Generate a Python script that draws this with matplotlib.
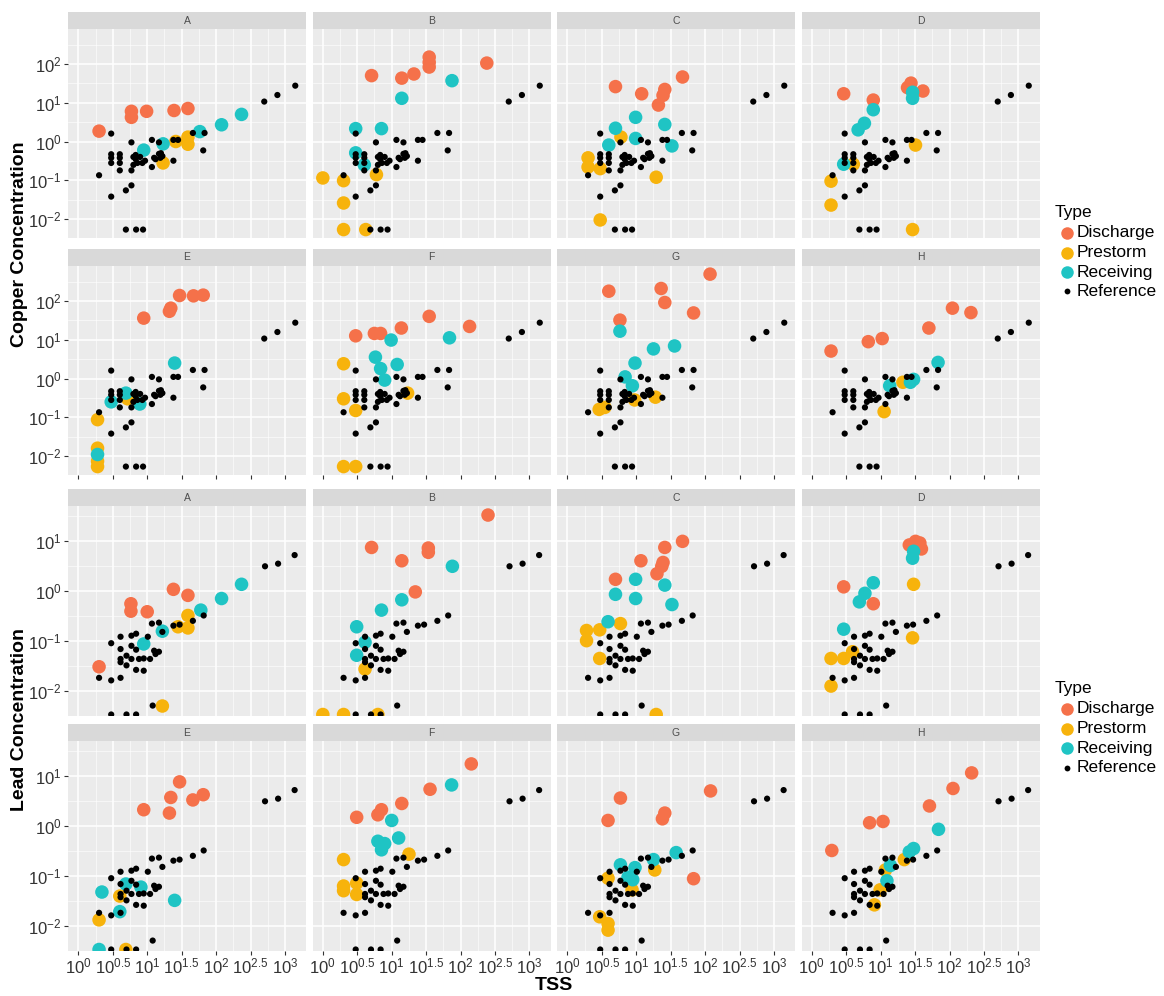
import matplotlib
matplotlib.use("Agg")
import matplotlib.pyplot as plt
from matplotlib.lines import Line2D

plt.rcParams['font.family'] = ['Liberation Sans', 'DejaVu Sans']
plt.rcParams['mathtext.fontset'] = 'custom'
plt.rcParams['mathtext.rm'] = 'Liberation Sans'
plt.rcParams['mathtext.it'] = 'Liberation Sans:italic'
plt.rcParams['mathtext.bf'] = 'Liberation Sans:bold'

sites = ["A", "B", "C", "D", "E", "F", "G", "H"]
types = ["Discharge", "Prestorm", "Receiving", "Reference"]
type_colors = {"Discharge": "#F5714A", "Prestorm": "#F7B30C",
               "Receiving": "#1FC4C4", "Reference": "black"}

# x ticks (TSS) as decade exponents, y ticks per metal
tss_exps = ["0", "0.5", "1", "1.5", "2", "2.5", "3"]
cu_exps = ["-2", "-1", "0", "1", "2"]
pb_exps = ["-2", "-1", "0", "1"]

# reference sites, same in every facet; concentration 0 = non-detect
ref_tss_cu = [2.0, 3.0, 3.0, 3.0, 3.0, 3.0, 4.0, 4.0, 4.0, 4.0, 4.9, 5.9, 5.9, 5.9,
              6.3, 6.3, 6.8, 6.8, 7.2, 7.9, 9.3, 8.5, 11.7, 11.7, 12.6, 13.2, 14.8,
              14.8, 15.5, 15.8, 16.6, 24, 28, 24, 46, 68, 65, 500, 776, 1410,
              4.9, 6.9, 8.7]
ref_cu = [0.135, 0.038, 1.6, 0.47, 0.38, 0.28, 0.47, 0.38, 0.28, 0.18, 0.055, 0.074,
          0.95, 0.18, 0.25, 0.40, 0.45, 0.35, 0.28, 0.40, 0.32, 0.28, 1.1, 0.22, 0.38,
          0.35, 0.95, 0.48, 0.38, 0.50, 0.42, 1.1, 1.1, 0.32, 1.66, 1.66, 0.59, 10.7,
          15.8, 27.5, 0, 0, 0]

ref_tss_pb = [2.0, 3.0, 3.0, 4.1, 4.1, 4.1, 4.1, 4.1, 5.0, 5.0, 5.9, 5.9, 6.9, 5.9,
              6.9, 8.9, 6.9, 7.6, 8.9, 10.2, 11.7, 14.8, 11.0, 12.6, 13.2, 14.8, 16.6,
              24, 29.5, 46, 66, 513, 794, 1380, 12, 3.0, 5.0, 6.9]
ref_pb = [0.018, 0.016, 0.089, 0.018, 0.12, 0.068, 0.043, 0.037, 0.032, 0.050, 0.079,
          0.126, 0.138, 0.043, 0.026, 0.025, 0.066, 0.043, 0.044, 0.12, 0.22, 0.23,
          0.043, 0.063, 0.054, 0.06, 0.15, 0.20, 0.21, 0.25, 0.32, 3.1, 3.5, 5.2,
          0.005, 0, 0, 0]

# (TSS, copper) per site
cu_discharge = {
    "A": [(2.0, 1.85), (5.9, 6.0), (5.9, 4.2), (9.8, 6.0), (24.5, 6.3), (39, 7.1)],
    "B": [(5.1, 50), (14, 43), (21, 55), (35, 150), (35, 110), (35, 83), (240, 105)],
    "C": [(5.0, 26), (12, 17), (26, 22), (24.5, 15.5), (21, 8.7), (47, 46)],
    "D": [(2.9, 17), (7.8, 11.7), (27.5, 32), (24.5, 24.5), (41, 20)],
    "E": [(8.9, 36), (21, 54), (22, 65), (29.5, 138), (47, 135), (65, 141)],
    "F": [(3.0, 12.6), (5.6, 14.5), (6.9, 14.5), (13.8, 20), (35, 40), (135, 22)],
    "G": [(118, 490), (4.0, 178), (23, 209), (26, 91), (68, 49), (5.8, 32)],
    "H": [(1.9, 5.1), (6.6, 8.9), (10.5, 10.7), (50, 20), (110, 65), (204, 50)],
}
cu_prestorm = {
    "A": [(17, 0.28), (26, 1.0), (39, 0.85), (39, 1.3)],
    "B": [(1.0, 0.115), (2.0, 0.098), (2.0, 0.026), (6.0, 0.14), (2.0, 0), (4.2, 0)],
    "C": [(6.0, 1.3), (2.0, 0.38), (2.0, 0.22), (3.0, 0.20), (19.5, 0.12), (3.0, 0.0095)],
    "D": [(32, 0.81), (1.9, 0.095), (1.9, 0.023), (4.0, 0.26), (29, 0)],
    "E": [(1.9, 0.087), (1.9, 0.016), (1.9, 0.0074), (5.2, 0.30), (1.9, 0)],
    "F": [(2.0, 2.4), (2.0, 0.30), (3.0, 0.15), (17, 0.42), (2.0, 0), (3.0, 0)],
    "G": [(2.9, 0.16), (3.5, 0.18), (19, 0.33), (9.5, 0.28)],
    "H": [(21, 0.8), (11.2, 0.14)],
}
cu_receiving = {
    "A": [(8.9, 0.6), (17, 0.87), (58, 1.8), (120, 2.7), (234, 5.0)],
    "B": [(14, 13), (75, 37), (3.0, 2.15), (7.1, 2.15), (3.0, 0.51), (4.0, 0.25)],
    "C": [(9.8, 4.2), (5.0, 2.2), (26, 2.75), (9.8, 1.2), (4.0, 0.81), (33, 0.77)],
    "D": [(29, 18.6), (29, 13), (7.8, 6.6), (5.8, 2.95), (4.7, 2.0), (2.9, 0.26)],
    "E": [(25, 2.5), (4.9, 0.42), (3.0, 0.25), (7.8, 0.22), (1.9, 0.011)],
    "F": [(9.8, 9.8), (69, 11.2), (5.8, 3.55), (12, 2.3), (6.9, 1.8), (7.9, 0.91)],
    "G": [(5.8, 16.6), (17.8, 5.8), (36, 6.9), (9.6, 2.5), (6.9, 1.1), (8.8, 0.65)],
    "H": [(68, 2.6), (30, 0.95), (27, 0.8), (13.5, 0.65)],
}

# (TSS, lead) per site
pb_discharge = {
    "A": [(2.0, 0.030), (5.8, 0.55), (5.8, 0.39), (10, 0.38), (24, 1.07), (39, 0.81)],
    "B": [(5.1, 7.4), (14, 4.0), (34, 7.2), (34, 5.9), (22, 0.95), (250, 33)],
    "C": [(47, 9.8), (26, 7.4), (11.7, 4.0), (24.5, 3.7), (23.5, 3.1), (20, 2.2), (5.0, 1.7)],
    "D": [(32, 9.8), (26, 8.3), (39, 6.9), (37, 9.1), (2.9, 1.2), (7.8, 0.55)],
    "E": [(29.5, 7.6), (22, 3.7), (46, 3.3), (65, 4.2), (8.9, 2.1), (21, 1.8)],
    "F": [(143, 17.4), (36, 5.4), (14, 2.8), (7.1, 2.1), (6.3, 1.66), (3.1, 1.48)],
    "G": [(120, 5.0), (5.9, 3.6), (3.9, 1.28), (26, 1.8), (24, 1.38), (68, 0.087)],
    "H": [(1.95, 0.32), (6.9, 1.15), (10.8, 1.22), (51, 2.5), (112, 5.6), (209, 11.5)],
}
pb_prestorm = {
    "A": [(16.6, 0.0049), (28, 0.19), (39, 0.32), (39, 0.18)],
    "B": [(4.1, 0.027), (1.0, 0), (2.0, 0), (6.3, 0)],
    "C": [(1.9, 0.16), (1.9, 0.10), (2.95, 0.165), (5.9, 0.22), (2.95, 0.044), (19.5, 0)],
    "D": [(30, 1.35), (29, 0.114), (1.9, 0.044), (2.9, 0.044), (3.9, 0.060), (1.9, 0.0123)],
    "E": [(2.0, 0.013), (4.0, 0.039), (4.9, 0)],
    "F": [(17.8, 0.27), (2.0, 0.21), (2.0, 0.062), (2.0, 0.050), (3.1, 0.071), (3.1, 0.042)],
    "G": [(18.6, 0.13), (3.9, 0.089), (8.7, 0.052), (2.95, 0.015), (3.9, 0.011), (3.9, 0.0081)],
    "H": [(22, 0.21), (11.7, 0.13), (9.8, 0.052), (8.1, 0.026)],
}
pb_receiving = {
    "A": [(8.9, 0.086), (16.6, 0.155), (60, 0.41), (120, 0.70), (234, 1.35)],
    "B": [(76, 3.1), (14, 0.66), (7.1, 0.41), (3.1, 0.19), (4.1, 0.093), (3.1, 0.051)],
    "C": [(9.8, 1.7), (5.0, 0.85), (9.8, 0.70), (26, 1.3), (33, 0.53), (3.9, 0.24)],
    "D": [(30, 6.2), (29, 4.5), (7.8, 1.45), (5.9, 0.89), (4.9, 0.60), (2.9, 0.17)],
    "E": [(25, 0.032), (4.9, 0.068), (2.2, 0.047), (4.0, 0.019), (8.1, 0.059), (2.0, 0)],
    "F": [(74, 6.6), (10, 1.28), (12.6, 0.57), (6.3, 0.49), (7.9, 0.44), (7.1, 0.33)],
    "G": [(38, 0.29), (17.8, 0.21), (5.9, 0.165), (9.6, 0.145), (7.6, 0.093), (8.9, 0.083)],
    "H": [(69, 0.85), (30, 0.35), (26, 0.30), (13.8, 0.16), (12.3, 0.079)],
}

W, H = 1164, 996
fig = plt.figure(figsize=(W / 100, H / 100), dpi=100)


def rect(left, top, width, height):
    return [left / W, 1 - (top + height) / H, width / W, height / H]


col_left = [68, 312.5, 557, 801.5]
panel_w = 238
panel_h = 209.5
strip_h = 17
xlim = (10 ** -0.15, 10 ** 3.305)
x_major = [10 ** float(e) for e in tss_exps]
x_minor = [10 ** (float(e) + 0.25) for e in tss_exps[:-1]]

metals = [
    dict(name="Copper", tops=[29, 266], ylim=(10 ** -2.27, 10 ** 2.9), exps=cu_exps,
         ref=(ref_tss_cu, ref_cu), groups=[cu_discharge, cu_prestorm, cu_receiving],
         xlabels=False, legend_top=212),
    dict(name="Lead", tops=[506, 741], ylim=(10 ** -2.48, 10 ** 1.70), exps=pb_exps,
         ref=(ref_tss_pb, ref_pb), groups=[pb_discharge, pb_prestorm, pb_receiving],
         xlabels=True, legend_top=688),
]

tick_color = "#333333"
for m in metals:
    y_major = [10 ** float(e) for e in m["exps"]]
    y_minor = [10 ** (float(e) + 0.5) for e in m["exps"]] + [10 ** (float(m["exps"][0]) - 0.5)]
    for i, site in enumerate(sites):
        row, col = divmod(i, 4)
        top = m["tops"][row]
        ax = fig.add_axes(rect(col_left[col], top, panel_w, panel_h))
        ax.set_facecolor("#EBEBEB")
        ax.set_xscale("log")
        ax.set_yscale("log")
        ax.set_xlim(xlim)
        ax.set_ylim(m["ylim"])
        ax.set_xticks(x_major)
        ax.set_xticks(x_minor, minor=True)
        ax.set_yticks(y_major)
        ax.set_yticks(y_minor, minor=True)
        ax.grid(which="major", color="white", lw=1.1)
        ax.grid(which="minor", color="white", lw=0.5, alpha=0.8)
        ax.set_axisbelow(True)
        for s in ax.spines.values():
            s.set_visible(False)
        ax.tick_params(which="minor", length=0, labelbottom=False, labelleft=False)
        ax.tick_params(which="major", length=3, width=0.8, color=tick_color,
                       labelsize=12, labelcolor=tick_color, pad=1.5)

        if col == 0:
            ax.set_yticklabels([f"$10^{{{e}}}$" for e in m["exps"]])
        else:
            ax.tick_params(axis="y", which="major", length=0, labelleft=False)
        if row == 1:
            if m["xlabels"]:
                ax.set_xticklabels([f"$10^{{{e}}}$" for e in tss_exps])
            else:
                ax.tick_params(axis="x", labelbottom=False)
        else:
            ax.tick_params(axis="x", which="major", length=0, labelbottom=False)

        lo = m["ylim"][0]
        for t, grp in zip(types[:3], m["groups"]):
            pts = grp[site]
            xs = [p[0] for p in pts]
            ys = [p[1] if p[1] > 0 else lo for p in pts]
            ax.scatter(xs, ys, s=95, color=type_colors[t], edgecolors="none", zorder=3)
        rx, ry = m["ref"]
        ax.scatter(rx, [v if v > 0 else lo for v in ry], s=20, color="black",
                   edgecolors="none", zorder=4)

        sax = fig.add_axes(rect(col_left[col], top - strip_h, panel_w, strip_h))
        sax.set_facecolor("#D9D9D9")
        sax.set_xticks([])
        sax.set_yticks([])
        for s in sax.spines.values():
            s.set_visible(False)
        sax.text(0.5, 0.5, site, ha="center", va="center", fontsize=7.5,
                 color="#4D4D4D", transform=sax.transAxes)

    # y axis title
    mid = (m["tops"][0] - strip_h + m["tops"][1] + panel_h) / 2
    fig.text(20 / W, 1 - mid / H, f"{m['name']} Concentration", rotation=90,
             ha="center", va="center", fontsize=14, fontweight="bold")

    # legend
    lt = m["legend_top"]
    fig.text(1055 / W, 1 - lt / H, "Type", ha="left", va="center", fontsize=12.5)
    for k, t in enumerate(types):
        yy = 1 - (lt + 21 + 19.5 * k) / H
        ms = 4.2 if t == "Reference" else 9
        fig.add_artist(Line2D([1067 / W], [yy], marker="o", ms=ms, color=type_colors[t],
                              mec="none", ls="none", transform=fig.transFigure))
        fig.text(1077 / W, yy, t, ha="left", va="center", fontsize=12.5)

fig.text(554 / W, 1 - 985 / H, "TSS", ha="center", va="center", fontsize=14,
         fontweight="bold")

fig.savefig("out.png", dpi=100, facecolor="white")
